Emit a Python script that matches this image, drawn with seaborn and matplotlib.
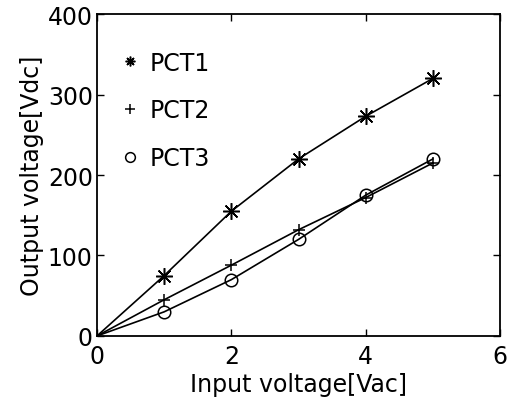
import pandas as pd
import seaborn as sns
import matplotlib.pyplot as plt
from matplotlib.lines import Line2D

# Values
input_v = [0, 1, 2, 3, 4, 5]
pct1 = [0, 75, 155, 220, 273, 320]
pct2 = [0, 45, 88, 132, 172, 215]
pct3 = [0, 30, 70, 120, 175, 220]
names = ['PCT1', 'PCT2', 'PCT3']

df = pd.DataFrame({
    'x': input_v * 3,
    'y': pct1 + pct2 + pct3,
    'series': [n for n in names for _ in input_v],
})

sns.set_style('ticks', {'text.color': 'black', 'axes.labelcolor': 'black',
                        'xtick.color': 'black', 'ytick.color': 'black'})
plt.rcParams['font.family'] = ['DejaVu Sans']

fig = plt.figure(figsize=(5.13, 4.06), dpi=100)
ax = fig.add_axes([0.189, 0.170, 0.786, 0.793])

markers = {'PCT1': (8, 2, 0), 'PCT2': '+', 'PCT3': 'o'}
sizes = {'PCT1': 12, 'PCT2': 8, 'PCT3': 9}

for n in names:
    sub = df[df['series'] == n]
    sns.lineplot(x='x', y='y', data=sub, ax=ax, color='black', lw=1.2,
                 legend=False, estimator=None)
    # no marker at the origin, as in the reference
    ax.plot(sub['x'][1:], sub['y'][1:], linestyle='none', marker=markers[n],
            ms=sizes[n], mfc='none', mec='black', mew=1.1)

ax.set_xlim(0, 6)
ax.set_ylim(0, 400)
ax.set_xticks([0, 2, 4, 6])
ax.set_yticks([0, 100, 200, 300, 400])
ax.tick_params(direction='in', top=True, right=True, labelsize=17,
               length=5, width=1, pad=3, colors='black')
ax.tick_params(axis='x', pad=6)
for s in ax.spines.values():
    s.set_linewidth(1.3)
    s.set_color('black')
ax.set_xlabel('Input voltage[Vac]', fontsize=17, labelpad=3, color='black')
ax.set_ylabel('Output voltage[Vdc]', fontsize=17, labelpad=3, color='black')

handles = [Line2D([], [], linestyle='none', marker=markers[n], ms=7,
                  mfc='none', mec='black', mew=1.1) for n in names]
leg = ax.legend(handles, names, loc='upper left', bbox_to_anchor=(0.0, 0.952),
                frameon=False, fontsize=17, handlelength=1.0,
                handletextpad=0.35, labelspacing=1.0)
for t in leg.get_texts():
    t.set_color('black')

fig.savefig('out.png', dpi=100)
